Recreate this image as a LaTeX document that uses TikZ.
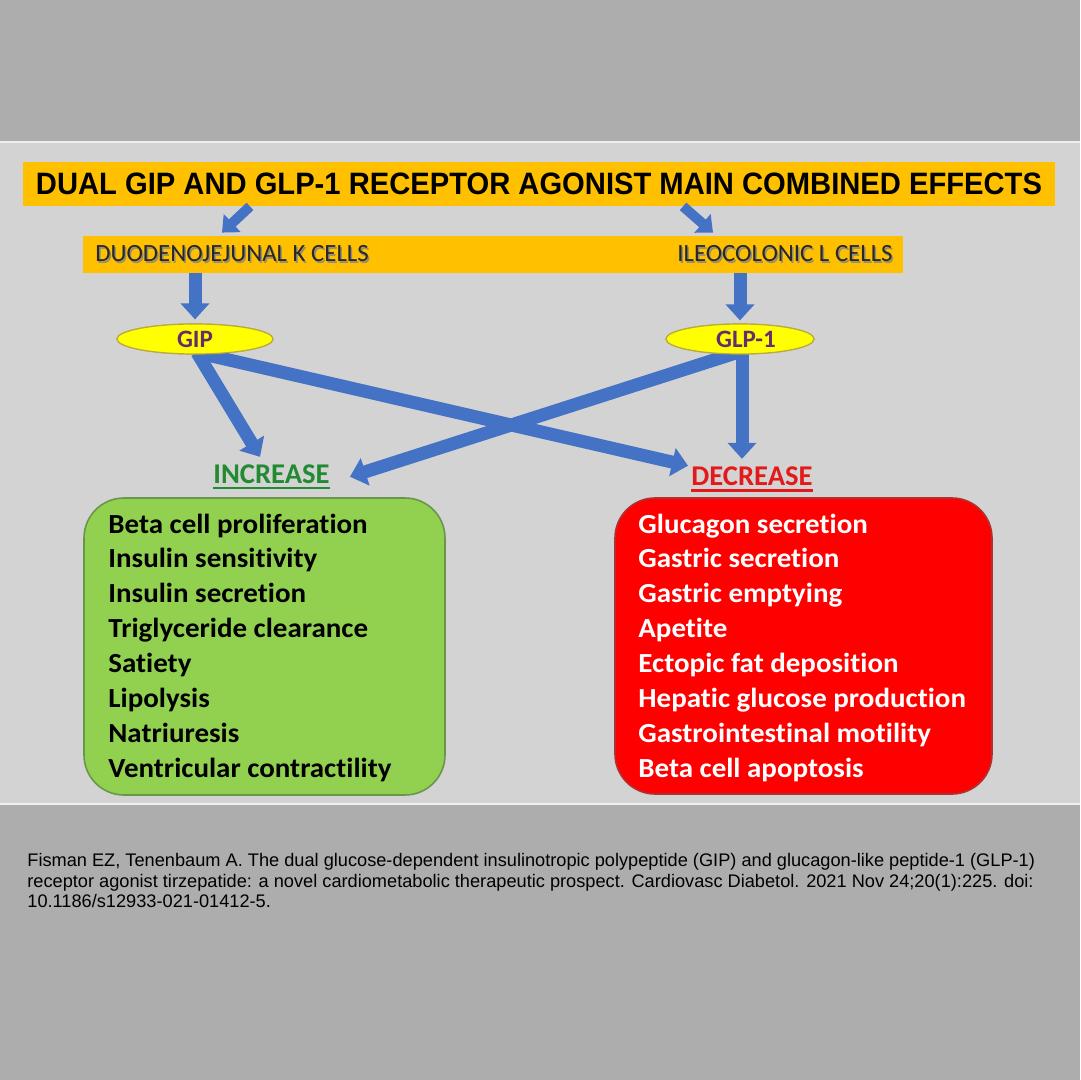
\documentclass[tikz,border=0pt]{standalone}
\usepackage{fontspec}
\usepackage{graphicx}
\setmainfont{Carlito}[Ligatures=NoCommon]
\newfontfamily\arialf{Liberation Sans}
\usetikzlibrary{shapes.geometric,arrows.meta}
\definecolor{bgout}{RGB}{173,173,173}
\definecolor{bgin}{RGB}{211,211,211}
\definecolor{bandline}{RGB}{236,239,244}
\definecolor{gold}{RGB}{255,192,0}
\definecolor{arrowblue}{RGB}{68,114,196}
\definecolor{ellyellow}{RGB}{255,255,0}
\definecolor{ellborder}{RGB}{185,170,60}
\definecolor{purpletxt}{RGB}{100,45,110}
\definecolor{incgreen}{RGB}{34,139,50}
\definecolor{decred}{RGB}{228,25,25}
\definecolor{boxgreen}{RGB}{146,208,80}
\definecolor{boxgreenedge}{RGB}{105,150,75}
\definecolor{boxred}{RGB}{255,0,0}
\definecolor{boxrededge}{RGB}{175,50,50}
\definecolor{celltxt}{RGB}{40,40,40}
\definecolor{cellshadow}{RGB}{150,140,110}
\begin{document}
\begin{tikzpicture}[x=0.5pt,y=-0.5pt,
  barrow/.style={draw=arrowblue,line width=6.5pt,-{Triangle[length=8pt,width=14pt]}},
  sarrow/.style={draw=arrowblue,line width=5pt,-{Triangle[length=7pt,width=12pt]}},
  goldbox/.style={rectangle,fill=gold,inner sep=0pt},
  cellfont/.style={font=\fontsize{12.4}{14}\selectfont,inner sep=0pt,anchor=base west},
  hormone/.style={ellipse,fill=ellyellow,draw=ellborder,line width=0.6pt,inner sep=0pt,
     minimum height=15pt,font=\bfseries\fontsize{12.5}{14}\selectfont,text=purpletxt},
  effect/.style={font=\bfseries\fontsize{14.3}{16}\selectfont,inner sep=0pt,anchor=base},
  listbox/.style={rectangle,rounded corners=20pt,line width=0.8pt,inner sep=0pt},
  listitem/.style={font=\bfseries\fontsize{13.8}{16}\selectfont,inner sep=0pt,anchor=base west},
  captxt/.style={font=\arialf\fontsize{9.1}{11}\selectfont,inner sep=0pt,anchor=base west,text=black}
]
\useasboundingbox (0,0) rectangle (1080,1080);
% background
\fill[bgout] (0,0) rectangle (1080,1080);
\fill[bgin] (0,142) rectangle (1080,803);
\draw[bandline,line width=1pt] (0,142) -- (1080,142);
\draw[bandline,line width=1pt] (0,803.5) -- (1080,803.5);

% title
\node[goldbox,minimum width=516pt,minimum height=22pt] (title) at (539,184)
  {\resizebox{503pt}{10.8pt}{\arialf\bfseries DUAL GIP AND GLP-1 RECEPTOR AGONIST MAIN COMBINED EFFECTS}};

% cells
\node[goldbox,minimum width=410pt,minimum height=18.5pt] (cells) at (493,254.5) {};
\node[cellfont,text=cellshadow] (kshadow) at (96.5,263.5) {DUODENOJEJUNAL K CELLS};
\node[cellfont,text=celltxt] (ktext) at (95,262) {DUODENOJEJUNAL K CELLS};
\node[cellfont,text=cellshadow] (lshadow) at (678.5,263.5) {ILEOCOLONIC L CELLS};
\node[cellfont,text=celltxt] (ltext) at (677,262) {ILEOCOLONIC L CELLS};

% hormones
\node[hormone,minimum width=78pt] (gip) at (195,339) {GIP};
\node[hormone,minimum width=74pt] (glp) at (740,339) {\hspace{6pt}GLP-1};

% effect labels
\node[effect,text=incgreen] (inc) at (271.5,483) {INCREASE};
\node[effect,text=decred] (dec) at (752,485) {DECREASE};
\draw[incgreen,line width=1.3pt] ([yshift=-2.5pt]inc.base west) -- ([yshift=-2.5pt]inc.base east);
\draw[decred,line width=1.3pt] ([yshift=-2.8pt]dec.base west) -- ([yshift=-2.8pt]dec.base east);

% boxes
\node[listbox,fill=boxgreen,draw=boxgreenedge,minimum width=180.5pt,minimum height=148.5pt] (gbox) at (264.5,646.5) {};
\node[listbox,fill=boxred,draw=boxrededge,minimum width=188.5pt,minimum height=148pt] (rbox) at (803.5,646) {};

\foreach \t [count=\i] in {Beta cell proliferation,Insulin sensitivity,Insulin secretion,Triglyceride clearance,Satiety,Lipolysis,Natriuresis,Ventricular contractility}
  \node[listitem,text=black] (g\i) at (108,{533+(\i-1)*34.9}) {\scalebox{1.05}[1]{\t}};
\foreach \t [count=\i] in {Glucagon secretion,Gastric secretion,Gastric emptying,Apetite,Ectopic fat deposition,Hepatic glucose production,Gastrointestinal motility,Beta cell apoptosis}
  \node[listitem,text=white] (r\i) at (638,{533+(\i-1)*34.9}) {\scalebox{1.05}[1]{\t}};

% arrows
\draw[sarrow] ([xshift=-144.5pt]title.south) -- ([xshift=-135.5pt,yshift=1.5pt]cells.north);
\draw[sarrow] ([xshift=72pt]title.south) -- ([xshift=110pt,yshift=1.5pt]cells.north);
\draw[barrow] ([xshift=-149pt]cells.south) -- ([yshift=2pt]gip.north);
\draw[barrow] ([xshift=123.5pt]cells.south) -- ([yshift=1.5pt]glp.north);
\draw[barrow] ([xshift=1pt,yshift=1pt]gip.south) -- ([xshift=-5.75pt,yshift=3.5pt]inc.north);
\draw[barrow] ([xshift=1pt,yshift=1pt]gip.south) -- ([xshift=-1.5pt,yshift=5pt]dec.west);
\draw[barrow] ([xshift=-1.5pt,yshift=1pt]glp.south) -- ([xshift=10pt,yshift=-1.5pt]inc.east);
\draw[barrow] ([xshift=1pt,yshift=1pt]glp.south) -- ([xshift=-5pt,yshift=3.5pt]dec.north);
% redraw ellipses over arrow starts
\node[hormone,minimum width=78pt] (gip2) at (gip.center) {GIP};
\node[hormone,minimum width=74pt] (glp2) at (glp.center) {\hspace{6pt}GLP-1};

% caption
\node[captxt] (c1) at (27,866.5) {Fisman EZ, Tenenbaum A. The dual glucose-dependent insulinotropic polypeptide (GIP) and glucagon-like peptide-1 (GLP-1)};
\node[captxt] (c2) at (27,887.5) {receptor agonist tirzepatide: a novel cardiometabolic therapeutic prospect. Cardiovasc Diabetol. 2021 Nov 24;20(1):225. doi:};
\node[captxt] (c3) at (27,907.5) {10.1186/s12933-021-01412-5.};
\end{tikzpicture}
\end{document}
